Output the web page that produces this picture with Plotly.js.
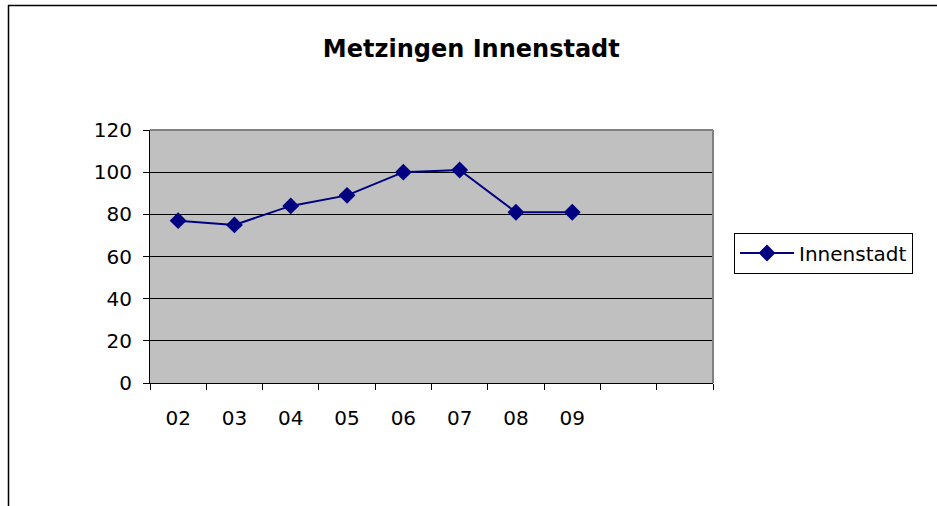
<!DOCTYPE html>
<html>
<head>
<meta charset="utf-8">
<script src="https://cdn.plot.ly/plotly-3.0.1.min.js"></script>
<style>
html,body{margin:0;padding:0;background:#fff;}
#chart{width:937px;height:506px;}
</style>
</head>
<body>
<div id="chart"></div>
<script>
var categories = ['02','03','04','05','06','07','08','09',' ','  '];
var years = ['02','03','04','05','06','07','08','09'];
var innenstadt = [77, 75, 84, 89, 100, 101, 81, 81];
var yTicks = [0, 20, 40, 60, 80, 100, 120];

var W = 937, H = 506;
var L = 150, R = 713, T = 130, B = 383;
function px(x){ return (x - L) / (R - L); }
function py(y){ return (B - y) / (B - T); }

var FONT = 'DejaVu Sans, Liberation Sans, Arial, sans-serif';

var trace = {
  x: years,
  y: innenstadt,
  type: 'scatter',
  mode: 'lines+markers',
  name: 'Innenstadt',
  line: {color: '#000080', width: 2},
  marker: {symbol: 'diamond', size: 13, color: '#000080'}
};

var layout = {
  width: W, height: H,
  margin: {l: L, r: W - R, t: T, b: H - B, pad: 0},
  paper_bgcolor: '#ffffff',
  plot_bgcolor: '#c0c0c0',
  font: {family: FONT, size: 20, color: '#000'},
  title: {
    text: '<b>Metzingen Innenstadt</b>',
    font: {family: FONT, size: 24, color: '#000'},
    x: 0.503, xanchor: 'center', y: 1 - 49 / H, yanchor: 'middle'
  },
  xaxis: {
    type: 'category',
    categoryorder: 'array',
    categoryarray: categories,
    range: [-0.5, 9.5],
    tickson: 'boundaries',
    ticks: 'outside', ticklen: 6, tickwidth: 1, tickcolor: '#000',
    showline: true, linecolor: '#000', linewidth: 1,
    showgrid: false, zeroline: false,
    ticklabelstandoff: 17,
    tickfont: {family: FONT, size: 20, color: '#000'},
    fixedrange: true
  },
  yaxis: {
    range: [0, 120],
    tickvals: yTicks,
    ticktext: yTicks.map(String),
    ticks: 'outside', ticklen: 6, tickwidth: 1, tickcolor: '#000',
    showline: true, linecolor: '#000', linewidth: 1,
    showgrid: true, gridcolor: '#000', gridwidth: 1,
    zeroline: false,
    ticklabelstandoff: 7,
    tickfont: {family: FONT, size: 20, color: '#000'},
    fixedrange: true
  },
  showlegend: true,
  legend: {
    x: px(734), xanchor: 'left',
    y: py(253), yanchor: 'middle',
    bgcolor: '#ffffff', bordercolor: '#000', borderwidth: 1,
    font: {family: FONT, size: 20, color: '#000'},
    itemwidth: 54,
    tracegroupgap: 0
  },
  shapes: [
    {type: 'line', xref: 'paper', yref: 'paper', x0: 0, x1: 1, y0: 1, y1: 1,
     line: {color: '#808080', width: 2}},
    {type: 'line', xref: 'paper', yref: 'paper', x0: 1, x1: 1, y0: 0, y1: 1,
     line: {color: '#808080', width: 2}},
    {type: 'line', xref: 'paper', yref: 'paper', x0: px(8), x1: px(945), y0: py(5.5), y1: py(5.5),
     line: {color: '#000', width: 1.5}},
    {type: 'line', xref: 'paper', yref: 'paper', x0: px(8.5), x1: px(8.5), y0: py(5), y1: py(520),
     line: {color: '#000', width: 1.5}}
  ]
};

Plotly.newPlot('chart', [trace], layout, {displayModeBar: false, staticPlot: true});
</script>
</body>
</html>
